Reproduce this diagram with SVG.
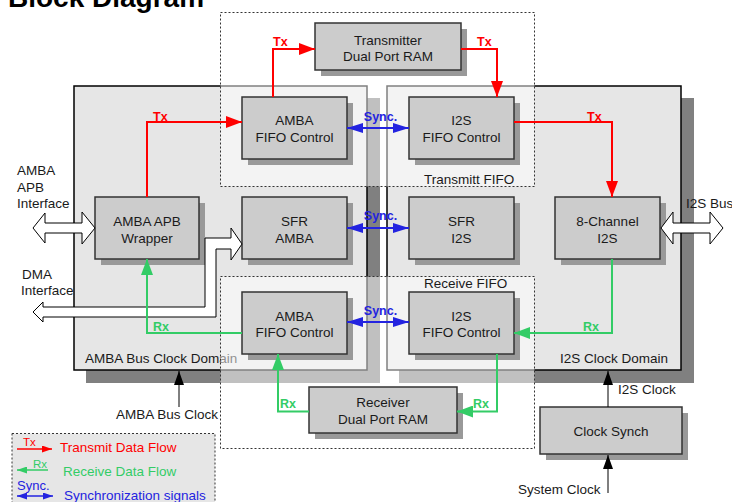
<svg xmlns="http://www.w3.org/2000/svg" width="732" height="502" viewBox="0 0 732 502">
<style>
.t{font-family:"Liberation Sans",Arial,sans-serif;font-size:13.5px;fill:#1a1a1a}
.c{text-anchor:middle}
.dom{fill:#e6e6e6;stroke:#000;stroke-width:1.5}
.dsh{fill:#808080}
.fifo{fill:#fff;fill-opacity:.5;stroke:#333;stroke-width:1;stroke-dasharray:2 2}
.blk{fill:#cccccc;stroke:#333;stroke-width:1.5}
.shd{fill:#999}
.tx{fill:none;stroke:#ff0000;stroke-width:2}
.rx{fill:none;stroke:#33cc66;stroke-width:2}
.sy{fill:none;stroke:#2323e0;stroke-width:2}
.clk{fill:none;stroke:#000;stroke-width:1}
.hol{fill:#fff;stroke:#000;stroke-width:1}
.lt{font-family:"Liberation Sans",Arial,sans-serif;font-size:12.5px;font-weight:bold}
.red{fill:#ff0000}.grn{fill:#33cc66}.blu{fill:#2323e0}
</style>
<defs>
<marker id="aR" markerUnits="userSpaceOnUse" markerWidth="16" markerHeight="12" refX="16" refY="6" orient="auto"><path d="M0,0 L16,6 L0,12 z" fill="#ff0000"/></marker>
<marker id="aG" markerUnits="userSpaceOnUse" markerWidth="16" markerHeight="12" refX="16" refY="6" orient="auto"><path d="M0,0 L16,6 L0,12 z" fill="#33cc66"/></marker>
<marker id="aB" markerUnits="userSpaceOnUse" markerWidth="16" markerHeight="10" refX="16" refY="5" orient="auto-start-reverse"><path d="M0,0 L16,5 L0,10 z" fill="#2323e0"/></marker>
<marker id="aK" markerUnits="userSpaceOnUse" markerWidth="14" markerHeight="10" refX="14" refY="5" orient="auto"><path d="M0,0 L14,5 L0,10 z" fill="#000"/></marker>
<marker id="sR" markerUnits="userSpaceOnUse" markerWidth="10" markerHeight="7" refX="10" refY="3.5" orient="auto"><path d="M0,0 L10,3.5 L0,7 z" fill="#ff0000"/></marker>
<marker id="sG" markerUnits="userSpaceOnUse" markerWidth="10" markerHeight="7" refX="10" refY="3.5" orient="auto"><path d="M0,0 L10,3.5 L0,7 z" fill="#33cc66"/></marker>
<marker id="sB" markerUnits="userSpaceOnUse" markerWidth="10" markerHeight="7" refX="10" refY="3.5" orient="auto-start-reverse"><path d="M0,0 L10,3.5 L0,7 z" fill="#2323e0"/></marker>
</defs>
<rect width="732" height="502" fill="#fff"/>
<text x="8" y="7" style="font-family:'Liberation Sans',Arial,sans-serif;font-size:28px;font-weight:bold" fill="#000">Block Diagram</text>

<g id="amba-domain">
<rect class="dsh" x="86" y="98" width="294" height="285"/>
<rect class="dom" x="74" y="86" width="293" height="284"/>
<text class="t" x="85" y="362.5">AMBA Bus Clock Domain</text>
</g>
<g id="i2s-domain">
<rect class="dsh" x="399" y="98" width="295" height="285"/>
<rect class="dom" x="387" y="86" width="294" height="284"/>
<text class="t" x="560" y="362.5">I2S Clock Domain</text>
</g>
<g id="transmit-fifo">
<rect class="fifo" x="220.5" y="12.5" width="314" height="174"/>
<text class="t" x="424" y="184">Transmitt FIFO</text>
</g>
<g id="receive-fifo">
<rect class="fifo" x="220.5" y="276.5" width="314" height="172"/>
<text class="t" x="424" y="287.5">Receive FIFO</text>
</g>

<g id="tx-ram">
<rect class="shd" x="321" y="29" width="146" height="47"/>
<rect class="blk" x="315" y="23" width="146" height="47"/>
<text class="t c" x="388" y="44.5">Transmitter</text>
<text class="t c" x="388" y="60.5">Dual Port RAM</text>
</g>
<g id="amba-fifo-tx">
<rect class="shd" x="248" y="103" width="105" height="62"/>
<rect class="blk" x="242" y="97" width="105" height="62"/>
<text class="t c" x="294.5" y="125">AMBA</text>
<text class="t c" x="294.5" y="141.5">FIFO Control</text>
</g>
<g id="i2s-fifo-tx">
<rect class="shd" x="415" y="103" width="105" height="62"/>
<rect class="blk" x="409" y="97" width="105" height="62"/>
<text class="t c" x="461.5" y="125">I2S</text>
<text class="t c" x="461.5" y="141.5">FIFO Control</text>
</g>
<g id="apb-wrapper">
<rect class="shd" x="101" y="203" width="104" height="62"/>
<rect class="blk" x="95" y="197" width="104" height="62"/>
<text class="t c" x="147" y="226">AMBA APB</text>
<text class="t c" x="147" y="242.5">Wrapper</text>
</g>
<g id="sfr-amba">
<rect class="shd" x="248" y="203" width="105" height="62"/>
<rect class="blk" x="242" y="197" width="105" height="62"/>
<text class="t c" x="294.5" y="226">SFR</text>
<text class="t c" x="294.5" y="242.5">AMBA</text>
</g>
<g id="sfr-i2s">
<rect class="shd" x="415" y="203" width="105" height="62"/>
<rect class="blk" x="409" y="197" width="105" height="62"/>
<text class="t c" x="461.5" y="226">SFR</text>
<text class="t c" x="461.5" y="242.5">I2S</text>
</g>
<g id="i2s-8ch">
<rect class="shd" x="561" y="203" width="105" height="62"/>
<rect class="blk" x="555" y="197" width="105" height="62"/>
<text class="t c" x="607.5" y="226">8-Channel</text>
<text class="t c" x="607.5" y="242.5">I2S</text>
</g>
<g id="amba-fifo-rx">
<rect class="shd" x="248" y="298" width="105" height="62"/>
<rect class="blk" x="242" y="292" width="105" height="62"/>
<text class="t c" x="294.5" y="320.5">AMBA</text>
<text class="t c" x="294.5" y="337">FIFO Control</text>
</g>
<g id="i2s-fifo-rx">
<rect class="shd" x="415" y="298" width="105" height="62"/>
<rect class="blk" x="409" y="292" width="105" height="62"/>
<text class="t c" x="461.5" y="320.5">I2S</text>
<text class="t c" x="461.5" y="337">FIFO Control</text>
</g>
<g id="rx-ram">
<rect class="shd" x="315" y="393" width="148" height="46"/>
<rect class="blk" x="309" y="387" width="148" height="46"/>
<text class="t c" x="383" y="407">Receiver</text>
<text class="t c" x="383" y="424">Dual Port RAM</text>
</g>
<g id="clock-synch">
<rect class="shd" x="546" y="413" width="142" height="47"/>
<rect class="blk" x="540" y="407" width="142" height="47"/>
<text class="t c" x="611" y="436">Clock Synch</text>
</g>

<g id="connectors">
<polygon class="hol" points="33,228 45,213 45,223 82,223 82,212 95,228 82,244 82,233 45,233 45,243"/>
<polygon class="hol" points="242,244 231,228 231,238 205,238 205,307 43,307 43,302 33,312 43,322 43,317 216,317 216,249 231,249 231,260"/>
<polygon class="hol" points="661,228 673,212 673,223 710,223 710,212 723,228 710,244 710,233 673,233 673,244"/>

<path class="tx" d="M147,197 V122 H242" marker-end="url(#aR)"/>
<path class="tx" d="M273,97 V49 H315" marker-end="url(#aR)"/>
<path class="tx" d="M461,49 H497 V97" marker-end="url(#aR)"/>
<path class="tx" d="M514,122 H612 V197" marker-end="url(#aR)"/>

<path class="rx" d="M612,259 V333 H514" marker-end="url(#aG)"/>
<path class="rx" d="M497,354 V411.5 H457" marker-end="url(#aG)"/>
<path class="rx" d="M309,411.5 H278 V354" marker-end="url(#aG)"/>
<path class="rx" d="M242,333 H147 V259" marker-end="url(#aG)"/>

<path class="sy" d="M347,128 H409" marker-start="url(#aB)" marker-end="url(#aB)"/>
<path class="sy" d="M347,228 H409" marker-start="url(#aB)" marker-end="url(#aB)"/>
<path class="sy" d="M347,322 H409" marker-start="url(#aB)" marker-end="url(#aB)"/>

<path class="clk" d="M179,407 V371" marker-end="url(#aK)"/>
<path class="clk" d="M608,407 V371" marker-end="url(#aK)"/>
<path class="clk" d="M608,493 V455" marker-end="url(#aK)"/>

<text class="lt red" x="153" y="121">Tx</text>
<text class="lt red" x="273" y="46">Tx</text>
<text class="lt red" x="477" y="46">Tx</text>
<text class="lt red" x="587" y="121">Tx</text>
<text class="lt grn" x="153" y="331">Rx</text>
<text class="lt grn" x="583" y="331">Rx</text>
<text class="lt grn" x="473" y="407.5">Rx</text>
<text class="lt grn" x="280" y="407.5">Rx</text>
<text class="lt blu" x="380.5" y="120.5" text-anchor="middle">Sync.</text>
<text class="lt blu" x="380.5" y="219.5" text-anchor="middle">Sync.</text>
<text class="lt blu" x="380.5" y="314.5" text-anchor="middle">Sync.</text>
</g>

<g id="labels">
<text class="t" x="17" y="175">AMBA</text>
<text class="t" x="17" y="191.5">APB</text>
<text class="t" x="17" y="208">Interface</text>
<text class="t" x="22" y="279">DMA</text>
<text class="t" x="21" y="295">Interface</text>
<text class="t" x="686" y="208">I2S Bus</text>
<text class="t" x="116" y="419">AMBA Bus Clock</text>
<text class="t" x="618" y="394">I2S Clock</text>
<text class="t" x="518" y="494">System Clock</text>
</g>

<g id="legend">
<rect x="12" y="433.5" width="203" height="80" fill="#e6e6e6" stroke="#333" stroke-width="1" stroke-dasharray="2 2"/>
<text x="23" y="446" style="font-family:'Liberation Sans',Arial,sans-serif;font-size:11.5px" fill="#ff0000">Tx</text>
<path d="M17,449 H52" stroke="#ff0000" stroke-width="1.5" marker-end="url(#sR)"/>
<text class="t" x="60" y="452" style="fill:#ff0000">Transmit Data Flow</text>
<text x="33" y="468" style="font-family:'Liberation Sans',Arial,sans-serif;font-size:11.5px" fill="#33cc66">Rx</text>
<path d="M48,470 H17" stroke="#33cc66" stroke-width="1.5" marker-end="url(#sG)"/>
<text class="t" x="63" y="476" style="fill:#33cc66">Receive Data Flow</text>
<text x="17" y="489.5" style="font-family:'Liberation Sans',Arial,sans-serif;font-size:13px" fill="#2323e0">Sync.</text>
<path d="M17,496 H53" stroke="#2323e0" stroke-width="1.5" marker-start="url(#sB)" marker-end="url(#sB)"/>
<text class="t" x="64" y="500" style="fill:#2323e0">Synchronization signals</text>
</g>
</svg>
